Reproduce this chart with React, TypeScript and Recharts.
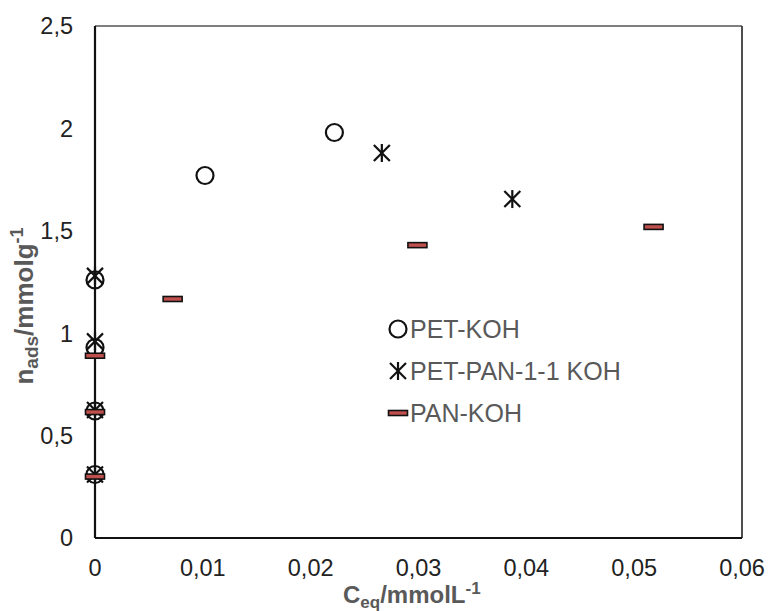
import { ScatterChart, Scatter, XAxis, YAxis, ReferenceLine, Label } from "recharts";

// PET-KOH (open circles)
const petKohX = [0, 0, 0, 0, 0.0102, 0.0222];
const petKohY = [1.26, 0.93, 0.62, 0.31, 1.77, 1.98];

// PET-PAN-1-1 KOH (asterisks)
const petPanX = [0, 0, 0, 0, 0.0266, 0.0387];
const petPanY = [1.28, 0.96, 0.625, 0.31, 1.88, 1.655];

// PAN-KOH (dash markers)
const panKohX = [0, 0, 0, 0.0072, 0.0299, 0.0518];
const panKohY = [0.89, 0.615, 0.3, 1.167, 1.43, 1.519];

const xTicks = [0, 0.01, 0.02, 0.03, 0.04, 0.05, 0.06];
const yTicks = [0, 0.5, 1, 1.5, 2, 2.5];

const seriesNames = ["PET-KOH", "PET-PAN-1-1 KOH", "PAN-KOH"];

const toPoints = (xs: number[], ys: number[]) => xs.map((x, i) => ({ x, y: ys[i] }));

const FONT = "'Liberation Sans', Arial, sans-serif";
const DASH_FILL = "#c0504d";
const FS = 23.5;

function CircleMark({ cx, cy }: { cx?: number; cy?: number }) {
  if (cx == null || cy == null) return null;
  return <circle cx={cx} cy={cy} r={8.5} fill="none" stroke="#111" strokeWidth={2.2} />;
}

function StarMark({ cx, cy }: { cx?: number; cy?: number }) {
  if (cx == null || cy == null) return null;
  const s = 8;
  return (
    <g stroke="#111" strokeWidth={2.2}>
      <line x1={cx - s} y1={cy - s} x2={cx + s} y2={cy + s} />
      <line x1={cx - s} y1={cy + s} x2={cx + s} y2={cy - s} />
      <line x1={cx} y1={cy - s - 1} x2={cx} y2={cy + s + 1} />
    </g>
  );
}

function DashMark({ cx, cy }: { cx?: number; cy?: number }) {
  if (cx == null || cy == null) return null;
  return (
    <rect x={cx - 9.5} y={cy - 2.5} width={19} height={5} fill={DASH_FILL} stroke="#111" strokeWidth={1.6} />
  );
}

const fmt = (v: number) => String(v).replace(".", ",");

function LegendBox() {
  const icons = [
    <CircleMark cx={11} cy={11} />,
    <StarMark cx={11} cy={11} />,
    <DashMark cx={11} cy={11} />,
  ];
  return (
    <div
      style={{
        position: "absolute",
        left: 387,
        top: 308,
        fontFamily: FONT,
        fontSize: 25,
        color: "#595959",
        lineHeight: 1,
      }}
    >
      {seriesNames.map((name, i) => (
        <div key={name} style={{ display: "flex", alignItems: "center", height: 42 }}>
          <svg width={22} height={22} style={{ marginRight: 1 }}>
            {icons[i]}
          </svg>
          <span>{name}</span>
        </div>
      ))}
    </div>
  );
}

function XTitle() {
  return (
    <text x={343} y={603} fontFamily={FONT} fontWeight="bold" fontSize={24} fill="#595959">
      C<tspan fontSize={17} dy={5}>eq</tspan>
      <tspan dy={-5}>/mmolL</tspan>
      <tspan fontSize={17} dy={-9}>-1</tspan>
    </text>
  );
}

function YTitle() {
  return (
    <text
      x={0}
      y={0}
      transform="translate(33,306) rotate(-90)"
      textAnchor="middle"
      fontFamily={FONT}
      fontWeight="bold"
      fontSize={26}
      fill="#595959"
    >
      n<tspan fontSize={19} dy={5}>ads</tspan>
      <tspan dy={-5}>/mmolg</tspan>
      <tspan fontSize={18} dy={-10}>-1</tspan>
    </text>
  );
}

export default function App() {
  return (
    <div style={{ position: "absolute", left: 0, top: 0, width: 771, height: 611, background: "#fff" }}>
      <ScatterChart width={771} height={611} margin={{ top: 26, right: 29, bottom: 33, left: 35 }}>
        <XAxis
          type="number"
          dataKey="x"
          domain={[0, 0.06]}
          ticks={xTicks}
          tickFormatter={fmt}
          height={40}
          tickLine={false}
          tickSize={0}
          tickMargin={21}
          axisLine={{ stroke: "#111", strokeWidth: 2.2 }}
          tick={{ fill: "#222", fontSize: FS, fontFamily: FONT }}
          interval={0}
        >
          <Label content={<XTitle />} />
        </XAxis>
        <YAxis
          type="number"
          dataKey="y"
          domain={[0, 2.5]}
          ticks={yTicks}
          tickFormatter={fmt}
          width={60}
          tickLine={false}
          tickSize={0}
          tickMargin={22}
          axisLine={{ stroke: "#111", strokeWidth: 2.2 }}
          tick={{ fill: "#222", fontSize: FS, fontFamily: FONT }}
          interval={0}
        >
          <Label content={<YTitle />} />
        </YAxis>
        <ReferenceLine y={2.5} stroke="#555" strokeWidth={1.6} />
        <ReferenceLine x={0.06} stroke="#222" strokeWidth={1.6} />
        <Scatter
          name={seriesNames[0]}
          data={toPoints(petKohX, petKohY)}
          shape={(p: any) => <CircleMark cx={p.cx} cy={p.cy} />}
          isAnimationActive={false}
        />
        <Scatter
          name={seriesNames[1]}
          data={toPoints(petPanX, petPanY)}
          shape={(p: any) => <StarMark cx={p.cx} cy={p.cy} />}
          isAnimationActive={false}
        />
        <Scatter
          name={seriesNames[2]}
          data={toPoints(panKohX, panKohY)}
          shape={(p: any) => <DashMark cx={p.cx} cy={p.cy} />}
          isAnimationActive={false}
        />
      </ScatterChart>
      <LegendBox />
    </div>
  );
}
